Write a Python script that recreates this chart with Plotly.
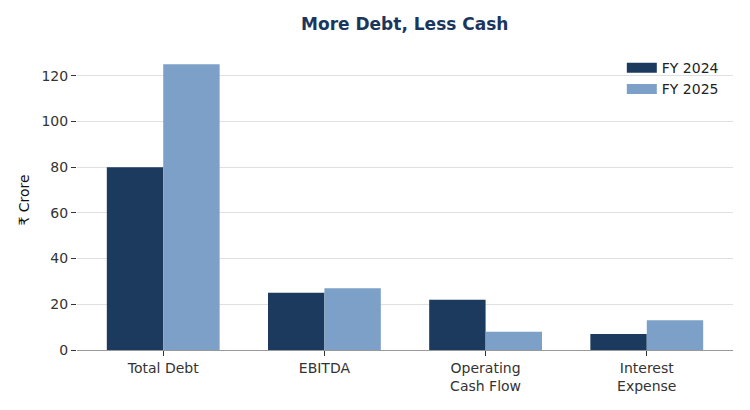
import plotly.graph_objects as go

# Chart data
categories = ["Total Debt", "EBITDA", "Operating<br>Cash Flow", "Interest<br>Expense"]
series_names = ["FY 2024", "FY 2025"]
fy2024 = [80, 25, 22, 7]
fy2025 = [125, 27, 8, 13]
y_ticks = [0, 20, 40, 60, 80, 100, 120]

NAVY = "#1c3a5e"
LIGHT = "#7da0c8"
FONT = "DejaVu Sans"

fig = go.Figure()
for name, vals, col in zip(series_names, [fy2024, fy2025], [NAVY, LIGHT]):
    fig.add_trace(go.Bar(x=categories, y=vals, name=name, showlegend=False,
                         marker=dict(color=col, line=dict(width=0))))
    # wide flat swatch for the legend, like matplotlib's patches
    fig.add_trace(go.Scatter(x=[None], y=[None], mode="lines", name=name,
                             line=dict(color=col, width=10)))

# margins offset for the page's 8px body margin
fig.update_layout(
    width=750, height=410,
    margin=dict(l=69, r=25, t=42, b=68),
    paper_bgcolor="white", plot_bgcolor="white",
    font=dict(family=FONT, size=14, color="#333333"),
    title=dict(text="<b>More Debt, Less Cash</b>", x=0.529, xanchor="center",
               y=0.961, yanchor="middle",
               font=dict(family=FONT, size=17, color="#1b365d")),
    barmode="group", bargap=0.3, bargroupgap=0,
    legend=dict(x=0.986, y=0.993, xanchor="right", yanchor="top",
                bgcolor="rgba(0,0,0,0)", font=dict(size=14, color="#222222"),
                tracegroupgap=0),
    xaxis=dict(range=[-0.535, 3.535], showline=True, linecolor="#999999",
               linewidth=1, ticks="outside", ticklen=5, tickcolor="#333333",
               showgrid=False, automargin=False,
               tickfont=dict(size=14, color="#333333")),
    yaxis=dict(range=[0, 131.25], tickvals=y_ticks, showline=False,
               ticks="outside", ticklen=5, tickcolor="#333333",
               showgrid=True, gridcolor="#e0e0e0", gridwidth=1,
               zeroline=False, automargin=False,
               tickfont=dict(size=14, color="#333333"),
               title=dict(text="₹ Crore", standoff=8,
                          font=dict(size=14, color="#111111"))),
)

fig.write_html("out.html")
